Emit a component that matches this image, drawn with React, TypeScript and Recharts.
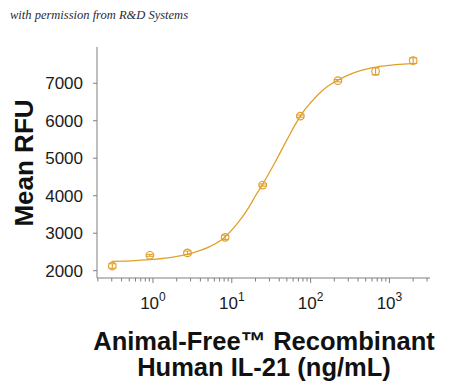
import React from 'react';
import {
  ComposedChart,
  Line,
  Scatter,
  ErrorBar,
  XAxis,
  YAxis,
  Customized,
} from 'recharts';

// Measured points (ng/mL, Mean RFU, error)
const concentrations = [0.305, 0.914, 2.74, 8.23, 24.7, 74.1, 222, 667, 2000];
const meanRFU = [2125, 2410, 2475, 2890, 4285, 6125, 7070, 7320, 7605];
const errors = [60, 25, 50, 55, 30, 30, 30, 95, 75];

// Fitted curve
const curveX = [0.3, 0.6, 1, 1.8, 3, 5, 8, 12, 16, 20, 25, 30, 36, 44, 54, 66, 80, 100, 125, 160, 220, 300, 450, 700, 1000, 1500, 2000];
const curveY = [2250, 2270, 2300, 2360, 2460, 2620, 2880, 3280, 3650, 4000, 4330, 4620, 4920, 5270, 5620, 5950, 6230, 6480, 6700, 6900, 7080, 7220, 7350, 7440, 7480, 7510, 7525];

const yTicks = [2000, 3000, 4000, 5000, 6000, 7000];
const xTicks = [
  0.2, 0.3, 0.4, 0.5, 0.6, 0.7, 0.8, 0.9,
  1, 2, 3, 4, 5, 6, 7, 8, 9,
  10, 20, 30, 40, 50, 60, 70, 80, 90,
  100, 200, 300, 400, 500, 600, 700, 800, 900,
  1000, 2000, 3000,
];
const majorLabels: Record<number, string> = { 1: '0', 10: '1', 100: '2', 1000: '3' };

const ORANGE = '#E0A02C';
const AXIS = '#7f7f7f';
const FONT = '"Liberation Sans", Arial, sans-serif';

const points = concentrations.map((c, i) => ({ x: c, y: meanRFU[i], err: errors[i] }));
const curve = curveX.map((c, i) => ({ x: c, y: curveY[i] }));

const XTick = (props: any) => {
  const { x, y, payload } = props;
  const v = payload.value;
  const exp = majorLabels[v];
  const major = exp !== undefined;
  return (
    <g>
      <line x1={x} y1={y} x2={x} y2={y + (major ? 5 : 3.5)} stroke={AXIS} strokeWidth={1} />
      {major && (
        <text x={x} y={y + 31} textAnchor="middle" fontFamily={FONT} fontSize={17} fill="#1a1a1a">
          <tspan>10</tspan>
          <tspan dy={-8} fontSize={12}>{exp}</tspan>
        </text>
      )}
    </g>
  );
};

const Circle = (props: any) => {
  const { cx, cy } = props;
  return <circle cx={cx} cy={cy} r={3.8} fill="none" stroke={ORANGE} strokeWidth={1.2} />;
};

const Annotations = () => (
  <g>
    <text x={10} y={19} fontFamily='"Liberation Serif", serif' fontStyle="italic" fontSize={12.5} fill="#2a2a35">
      with permission from R&amp;D Systems
    </text>
    <text
      x={0}
      y={0}
      transform="translate(33,163) rotate(-90)"
      textAnchor="middle"
      fontFamily={FONT}
      fontWeight="bold"
      fontSize={26}
      fill="#111"
    >
      Mean RFU
    </text>
    <text textAnchor="middle" fontFamily={FONT} fontWeight="bold" fontSize={25.5} fill="#111">
      <tspan x={264} y={350}>Animal-Free™ Recombinant</tspan>
      <tspan x={264} y={376}>Human IL-21 (ng/mL)</tspan>
    </text>
  </g>
);

export default function App() {
  return (
    <div style={{ position: 'absolute', left: 0, top: 0, width: 450, height: 385, background: '#fff' }}>
      <ComposedChart width={450} height={385} margin={{ top: 47, right: 20, left: 0, bottom: 0 }}>
        <XAxis
          type="number"
          dataKey="x"
          scale="log"
          domain={[0.195, 3270]}
          allowDataOverflow
          ticks={xTicks}
          interval={0}
          height={107}
          tickSize={0}
          tickMargin={0}
          tickLine={false}
          tick={<XTick />}
          axisLine={{ stroke: AXIS, strokeWidth: 1 }}
        />
        <YAxis
          type="number"
          dataKey="y"
          domain={[1805, 7968]}
          allowDataOverflow
          ticks={yTicks}
          interval={0}
          width={97}
          tickSize={4}
          tickMargin={10}
          tick={{ fontFamily: FONT, fontSize: 17, fill: '#1a1a1a' }}
          tickLine={{ stroke: AXIS }}
          axisLine={{ stroke: AXIS, strokeWidth: 1 }}
        />
        <Line
          data={curve}
          dataKey="y"
          type="monotone"
          stroke={ORANGE}
          strokeWidth={1.3}
          dot={false}
          activeDot={false}
          isAnimationActive={false}
        />
        <Scatter data={points} dataKey="y" shape={<Circle />} isAnimationActive={false}>
          <ErrorBar dataKey="err" direction="y" width={4} stroke={ORANGE} strokeWidth={1.1} />
        </Scatter>
        <Customized component={Annotations} />
      </ComposedChart>
    </div>
  );
}
